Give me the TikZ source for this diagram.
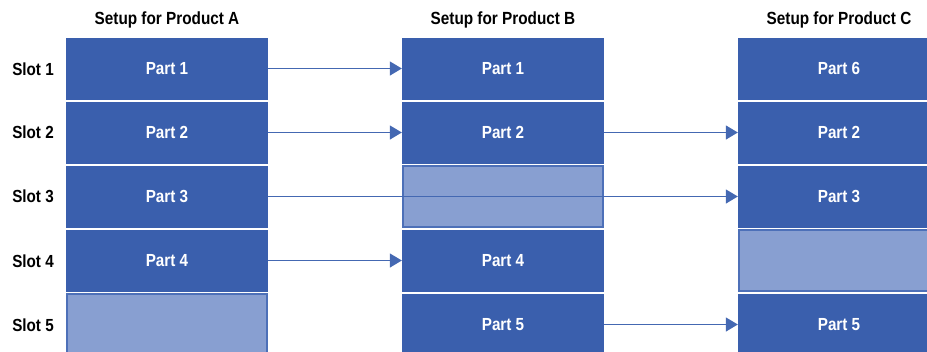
\documentclass[tikz,border=0pt]{standalone}
\usepackage{fontspec}
\setmainfont{Liberation Sans}[FakeStretch=0.87]
\usetikzlibrary{arrows.meta}
\definecolor{slotdark}{HTML}{3A5FAD}
\definecolor{slotlight}{HTML}{889FD1}
\definecolor{slotedge}{HTML}{4D70B8}
\definecolor{flowline}{HTML}{4468B2}
\tikzset{
  cell/.style={fill=slotdark, minimum width=202pt, minimum height=62pt, inner sep=0pt,
    text=white, font=\fontsize{17.5}{19}\selectfont\bfseries},
  emptycell/.style={fill=slotlight, draw=slotedge, line width=2pt,
    minimum width=200pt, minimum height=61pt, inner sep=0pt},
  head/.style={font=\fontsize{17.6}{19}\selectfont\bfseries, text=black, inner sep=0pt},
  slotlabel/.style={font=\fontsize{17.5}{19}\selectfont\bfseries, text=black, inner sep=0pt},
  flow/.style={draw=flowline, line width=1.3pt, -{Triangle[length=12pt,width=14pt]}}
}
\begin{document}
\begin{tikzpicture}[x=1pt,y=-1pt]
\useasboundingbox (0,0) rectangle (927,351);
\clip (0,0) rectangle (927,351);
% column headings
\node[head] (ha) at (167,20) {Setup for Product A};
\node[head] (hb) at (503,20) {Setup for Product B};
\node[head] (hc) at (839,20) {Setup for Product C};
% slot labels
\node[slotlabel] (s1) at (33,69) {Slot 1};
\node[slotlabel] (s2) at (33,132) {Slot 2};
\node[slotlabel] (s3) at (33,196) {Slot 3};
\node[slotlabel] (s4) at (33,261) {Slot 4};
\node[slotlabel] (s5) at (33,325) {Slot 5};
% product A
\node[cell] (a1) at (167,68.5) {Part 1};
\node[cell] (a2) at (167,132.5) {Part 2};
\node[cell] (a3) at (167,196.5) {Part 3};
\node[cell] (a4) at (167,260.5) {Part 4};
\node[emptycell] (a5) at (167,324.5) {};
% product B
\node[cell] (b1) at (503,68.5) {Part 1};
\node[cell] (b2) at (503,132.5) {Part 2};
\node[emptycell] (b3) at (503,196.5) {};
\node[cell] (b4) at (503,260.5) {Part 4};
\node[cell] (b5) at (503,324.5) {Part 5};
% product C
\node[cell] (c1) at (839,68.5) {Part 6};
\node[cell] (c2) at (839,132.5) {Part 2};
\node[cell] (c3) at (839,196.5) {Part 3};
\node[emptycell] (c4) at (839,260.5) {};
\node[cell] (c5) at (839,324.5) {Part 5};
% parts carried over between setups
\draw[flow] (a1.east) -- (b1.west);
\draw[flow] (a2.east) -- (b2.west);
\draw[flow] (a4.east) -- (b4.west);
\draw[flow] (b2.east) -- (c2.west);
\draw[flow] (b5.east) -- (c5.west);
\draw[flow] (a3.east) -- (c3.west);
\end{tikzpicture}
\end{document}
